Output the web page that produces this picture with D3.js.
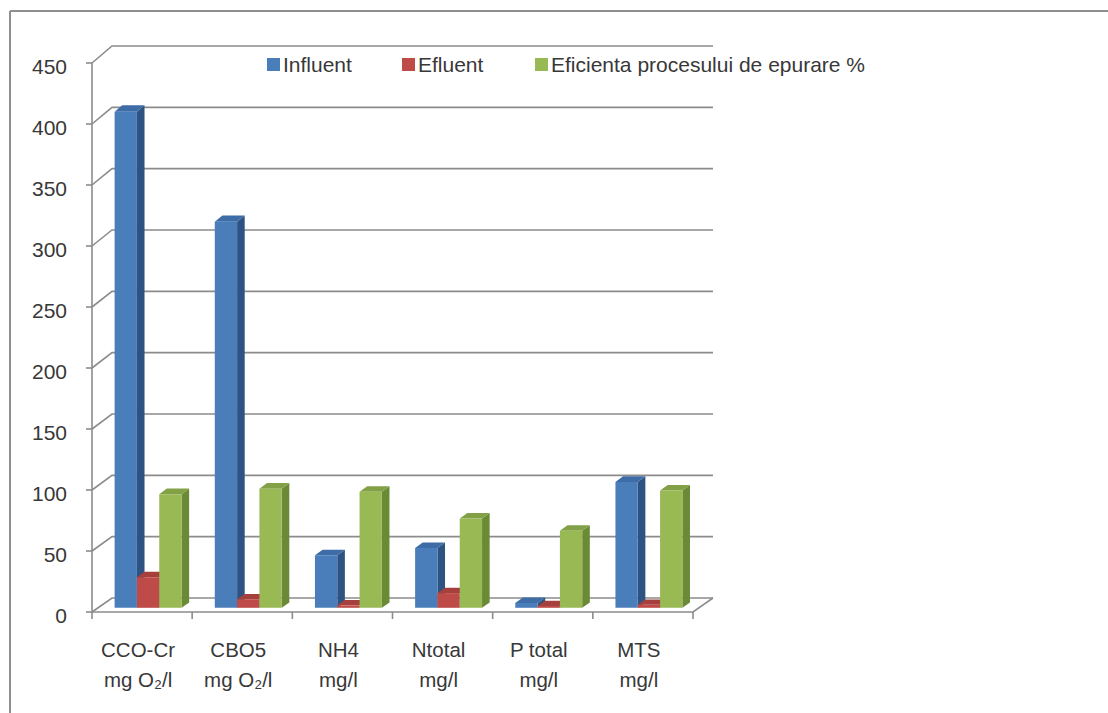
<!DOCTYPE html>
<html><head><meta charset="utf-8">
<script src="https://cdn.jsdelivr.net/npm/d3@7"></script>
<style>
body{margin:0;background:#fff}
svg{display:block}
text{font-family:"Liberation Sans",Arial,sans-serif;fill:#383838}
</style>
</head><body>
<svg id="c" width="1108" height="713"></svg>
<script>
const categories = ["CCO-Cr", "CBO5", "NH4", "Ntotal", "P total", "MTS"];
const units = ["mg O₂/l", "mg O₂/l", "mg/l", "mg/l", "mg/l", "mg/l"];
const seriesNames = ["Influent", "Efluent", "Eficienta procesului de epurare %"];
const influent = [406, 316, 43, 49, 4, 103];
const efluent = [25, 7, 2, 12, 1.5, 2.5];
const eficienta = [93, 97.5, 95, 73, 63, 96];
const yTicks = [0, 50, 100, 150, 200, 250, 300, 350, 400, 450];

const series = [influent, efluent, eficienta];
const colors = [
  {front:"#4a7ebb", side:"#2e5281", top:"#3d6ca6"},
  {front:"#be4b48", side:"#8a3331", top:"#a6403d"},
  {front:"#98b954", side:"#6b8a36", top:"#82a146"}
];

const svg = d3.select("#c");
const grid = "#8c8c8c";

// frame
svg.append("line").attr("x1",10).attr("y1",11).attr("x2",1108).attr("y2",11).attr("stroke","#8f8f8f").attr("stroke-width",2);
svg.append("line").attr("x1",10).attr("y1",11).attr("x2",10).attr("y2",713).attr("stroke","#8f8f8f").attr("stroke-width",2);

const x = d3.scaleBand().domain(d3.range(categories.length)).range([92, 693]).padding(0);
const xs = d3.scaleBand().domain([0,1,2]).range([0, x.bandwidth()]).paddingInner(0).paddingOuter(0.745);
const yF = d3.scaleLinear().domain([0,450]).range([612, 63]);
const yB = d3.scaleLinear().domain([0,450]).range([598, 46]);
const DX = 20;
function pt(xf, v, t){ return [xf + DX*t, yF(v)*(1-t) + yB(v)*t]; }

const g = svg.append("g");
// back wall gridlines + side wall diagonals
yTicks.forEach(v=>{
  const a = pt(92, v, 0), b = pt(92, v, 1), c = pt(693, v, 1);
  g.append("path").attr("d", d3.line()([a,b,c])).attr("fill","none").attr("stroke",grid).attr("stroke-width",1.6);
});
// floor front edge and right edge
g.append("path").attr("d", d3.line()([pt(92,0,0), pt(693,0,0), pt(693,0,1)])).attr("fill","none").attr("stroke",grid).attr("stroke-width",1.6);
// value axis
g.append("line").attr("x1",92).attr("y1",yF(450)).attr("x2",92).attr("y2",yF(0)).attr("stroke",grid).attr("stroke-width",1.6);
yTicks.forEach(v=>{
  g.append("line").attr("x1",86).attr("x2",92).attr("y1",yF(v)).attr("y2",yF(v)).attr("stroke",grid).attr("stroke-width",1.6);
  g.append("text").attr("x",67).attr("y",yF(v)+10.5).attr("text-anchor","end").attr("font-size",21).text(v);
});
// category ticks
d3.range(categories.length+1).forEach(i=>{
  const xx = i < categories.length ? x(i) : x(categories.length-1)+x.bandwidth();
  g.append("line").attr("x1",xx).attr("x2",xx).attr("y1",yF(0)).attr("y2",yF(0)+7).attr("stroke",grid).attr("stroke-width",1.6);
});
// category labels
categories.forEach((c,i)=>{
  const cx = x(i) + x.bandwidth()/2 - 4;
  g.append("text").attr("x",cx).attr("y",657).attr("text-anchor","middle").attr("font-size",20.5).text(c);
  g.append("text").attr("x",cx).attr("y",687).attr("text-anchor","middle").attr("font-size",20.5).text(units[i]);
});

// bars
const tf = 0.3, tb = 0.68;
const bars = svg.append("g");
categories.forEach((c,i)=>{
  series.forEach((s,k)=>{
    const v = s[i];
    const x0 = x(i) + xs(k), x1 = x0 + xs.bandwidth();
    const col = colors[k];
    const side = [pt(x1,0,tf), pt(x1,0,tb), pt(x1,v,tb), pt(x1,v,tf)];
    const top = [pt(x0,v,tf), pt(x1,v,tf), pt(x1,v,tb), pt(x0,v,tb)];
    const front = [pt(x0,0,tf), pt(x1,0,tf), pt(x1,v,tf), pt(x0,v,tf)];
    bars.append("path").attr("d", d3.line()(side)+"Z").attr("fill", col.side);
    bars.append("path").attr("d", d3.line()(top)+"Z").attr("fill", col.top);
    bars.append("path").attr("d", d3.line()(front)+"Z").attr("fill", col.front);
  });
});

// legend
const legX = [267, 402, 535];
seriesNames.forEach((n,k)=>{
  svg.append("rect").attr("x",legX[k]).attr("y",58).attr("width",13).attr("height",13).attr("fill",colors[k].front);
  svg.append("text").attr("x",legX[k]+16).attr("y",72).attr("font-size",21).text(n);
});
</script>
</body></html>
